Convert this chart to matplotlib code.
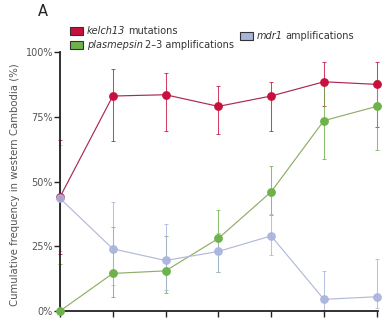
import matplotlib
matplotlib.use("Agg")
import matplotlib.pyplot as plt
from matplotlib.patches import Rectangle

# ---- data (percent) ----
x_idx = [0, 1, 2, 3, 4, 5, 6]
y_ticks = [0, 25, 50, 75, 100]
y_ticklabels = ["0%", "25%", "50%", "75%", "100%"]

kelch13 = [44, 83, 83.5, 79, 83, 88.5, 87.5]
kelch13_lo = [22, 65.5, 69.5, 68.5, 69.5, 79, 71]
kelch13_hi = [66, 93.5, 92, 87, 88.5, 96, 96]

plasmepsin = [0, 14.5, 15.5, 28, 46, 73.5, 79]
plasmepsin_lo = [0, 5.5, 7, 15, 37, 58.5, 62]
plasmepsin_hi = [18, 32.5, 29, 39, 56, 89, 89]

mdr1 = [43.5, 24, 19.5, 23, 29, 4.5, 5.5]
mdr1_lo = [23, 10, 8, 15, 21.5, 0.5, 1]
mdr1_hi = [64, 42, 33.5, 30, 37.5, 15.5, 20]

series = [
    ("kelch13", kelch13, kelch13_lo, kelch13_hi, "#c8103e", "#a82a52", 4),
    ("plasmepsin", plasmepsin, plasmepsin_lo, plasmepsin_hi, "#6db24a", "#8fae68", 5),
    ("mdr1", mdr1, mdr1_lo, mdr1_hi, "#a9b3dc", "#b3bad8", 6),
]

W, H = 388, 327
fig = plt.figure(figsize=(W / 100, H / 100), dpi=100)
ax = fig.add_axes([60 / W, 1 - 311 / H, (378 - 60) / W, (311 - 52) / H])

for name, v, lo, hi, mc, lc, z in series:
    yerr = [[a - b for a, b in zip(v, lo)], [b - a for a, b in zip(v, hi)]]
    ax.errorbar(x_idx, v, yerr=yerr, fmt="none", ecolor=mc, elinewidth=0.75,
                capsize=1.2, capthick=0.7, clip_on=False, zorder=2, alpha=0.8)
    ax.plot(x_idx, v, color=lc, lw=0.85, zorder=3, clip_on=False)
    ax.plot(x_idx, v, "o", color=mc, ms=5.3, mec=mc, zorder=z, clip_on=False,
            alpha=0.9 if name == "mdr1" else 1.0)

ax.set_xlim(0, 6.025)
ax.set_ylim(0, 100)
ax.set_yticks(y_ticks)
ax.set_yticklabels(y_ticklabels)
ax.set_xticks(x_idx)
ax.set_xticklabels([])
for s in ["top", "right"]:
    ax.spines[s].set_visible(False)
for s in ["left", "bottom"]:
    ax.spines[s].set_linewidth(1.3)
    ax.spines[s].set_color("#222222")
ax.tick_params(axis="y", length=4, width=1.0, color="#222222", labelsize=7,
               labelcolor="#555555", pad=1)
ax.tick_params(axis="x", length=4, width=1.0, color="#222222")

fig.text(15 / W, 1 - 185 / H, "Cumulative frequency in western Cambodia (%)",
         rotation=90, ha="center", va="center", fontsize=7.3, color="#555555")
fig.text(43 / W, 1 - 12 / H, "A", ha="center", va="center", fontsize=10.5,
         color="#222222")

# legend
def legend_item(px, py, color, gene, rest):
    fig.patches.append(Rectangle((px / W, 1 - (py + 4) / H), 13 / W, 8 / H,
                                 transform=fig.transFigure, facecolor=color,
                                 edgecolor="#333333", lw=0.8))
    t = fig.text((px + 17) / W, 1 - py / H, gene, ha="left", va="center",
                 fontsize=7.0, style="italic", color="#333333")
    fig.canvas.draw()
    bb = t.get_window_extent()
    fig.text(bb.x1 / W + 2.5 / W, 1 - py / H, rest, ha="left", va="center",
             fontsize=7.0, color="#333333")

legend_item(70, 31, "#c8103e", "kelch13", "mutations")
legend_item(70, 45, "#6db24a", "plasmepsin", "2\u20133 amplifications")
legend_item(240, 36, "#a9b3dc", "mdr1", "amplifications")

fig.savefig("out.png", dpi=100)
